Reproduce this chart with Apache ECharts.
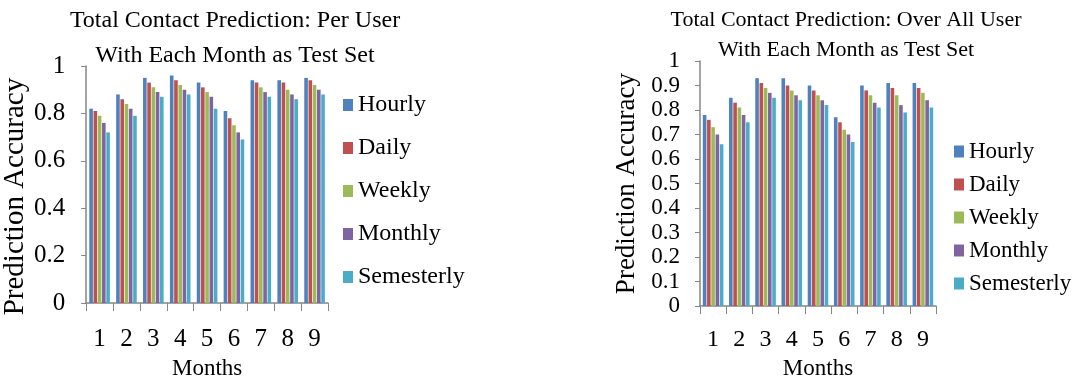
<!DOCTYPE html>
<html>
<head>
<meta charset="utf-8">
<script src="https://cdn.jsdelivr.net/npm/echarts@6/dist/echarts.min.js"></script>
<style>
  html, body { margin: 0; padding: 0; background: #fff; }
  #chart { width: 1072px; height: 385px; }
</style>
</head>
<body>
<div id="chart"></div>
<script>
// Test months and the training granularities compared in each month
const months = ['1', '2', '3', '4', '5', '6', '7', '8', '9'];
const granularities = ['Hourly', 'Daily', 'Weekly', 'Monthly', 'Semesterly'];
const palette = ['#4F81BD', '#C0504D', '#9BBB59', '#8064A2', '#4BACC6'];

// Accuracy averaged per user
const perUserHourly     = [0.82, 0.88, 0.95, 0.96, 0.93, 0.81, 0.94, 0.94, 0.95];
const perUserDaily      = [0.81, 0.86, 0.93, 0.94, 0.91, 0.78, 0.93, 0.93, 0.94];
const perUserWeekly     = [0.79, 0.84, 0.91, 0.92, 0.89, 0.75, 0.91, 0.90, 0.92];
const perUserMonthly    = [0.76, 0.82, 0.89, 0.90, 0.87, 0.72, 0.89, 0.88, 0.90];
const perUserSemesterly = [0.72, 0.79, 0.87, 0.88, 0.82, 0.69, 0.87, 0.86, 0.88];

// Accuracy pooled over all users
const overallHourly     = [0.78, 0.85, 0.93, 0.93, 0.90, 0.77, 0.90, 0.91, 0.91];
const overallDaily      = [0.76, 0.83, 0.91, 0.90, 0.88, 0.75, 0.88, 0.89, 0.89];
const overallWeekly     = [0.73, 0.81, 0.89, 0.88, 0.86, 0.72, 0.86, 0.86, 0.87];
const overallMonthly    = [0.70, 0.78, 0.87, 0.86, 0.84, 0.70, 0.83, 0.82, 0.84];
const overallSemesterly = [0.66, 0.75, 0.85, 0.84, 0.82, 0.67, 0.81, 0.79, 0.81];

const perUser = [perUserHourly, perUserDaily, perUserWeekly, perUserMonthly, perUserSemesterly];
const overall = [overallHourly, overallDaily, overallWeekly, overallMonthly, overallSemesterly];

const FONT = '"Liberation Serif", "DejaVu Serif", serif';
const AXIS_GREY = '#868686';

function xAxisFor(gridIndex, fontSize, labelMargin, nameGap) {
  return {
    type: 'category',
    gridIndex: gridIndex,
    data: months,
    boundaryGap: true,
    name: 'Months',
    nameLocation: 'middle',
    nameGap: nameGap,
    nameTextStyle: { fontFamily: FONT, fontSize: 23, color: '#000' },
    axisLine: { show: true, lineStyle: { color: AXIS_GREY, width: 1.5 } },
    axisTick: { show: true, length: 8, alignWithLabel: false, lineStyle: { color: AXIS_GREY } },
    axisLabel: { fontFamily: FONT, fontSize: fontSize, color: '#000', margin: labelMargin },
    splitLine: { show: false }
  };
}

function yAxisFor(gridIndex, interval, fontSize, labelMargin, nameSize, nameGap, namePad) {
  return {
    type: 'value',
    gridIndex: gridIndex,
    min: 0,
    max: 1,
    interval: interval,
    name: 'Prediction Accuracy',
    nameLocation: 'middle',
    nameRotate: 90,
    nameGap: nameGap,
    nameTextStyle: { fontFamily: FONT, fontSize: nameSize, color: '#000', padding: namePad },
    axisLine: { show: true, lineStyle: { color: AXIS_GREY, width: 1.5 } },
    axisTick: { show: true, length: 5, lineStyle: { color: AXIS_GREY } },
    axisLabel: { fontFamily: FONT, fontSize: fontSize, color: '#000', margin: labelMargin },
    splitLine: { show: false }
  };
}

function barSeries(values, i, axisIndex) {
  return {
    type: 'bar',
    name: granularities[i],
    xAxisIndex: axisIndex,
    yAxisIndex: axisIndex,
    data: values,
    barWidth: 3.6,
    barGap: '18%',
    itemStyle: { color: palette[i] },
    emphasis: { disabled: true },
    animation: false
  };
}

const series = [];
perUser.forEach((vals, i) => series.push(barSeries(vals, i, 0)));
overall.forEach((vals, i) => series.push(barSeries(vals, i, 1)));

const chart = echarts.init(document.getElementById('chart'), null, { renderer: 'canvas' });
chart.setOption({
  backgroundColor: '#fff',
  animation: false,
  color: palette,
  title: [
    {
      text: 'Total Contact Prediction: Per User\nWith Each Month as Test Set',
      left: 230, top: -2, textAlign: 'center',
      textStyle: { fontFamily: FONT, fontSize: 24, fontWeight: 'normal', color: '#000', lineHeight: 35 }
    },
    {
      text: 'Total Contact Prediction: Over All User\nWith Each Month as Test Set',
      left: 841, top: 0, textAlign: 'center',
      textStyle: { fontFamily: FONT, fontSize: 22, fontWeight: 'normal', color: '#000', lineHeight: 30 }
    }
  ],
  legend: [
    {
      data: granularities,
      orient: 'vertical',
      left: 338, top: 88,
      itemWidth: 10, itemHeight: 12, itemGap: 19,
      icon: 'rect',
      textStyle: { fontFamily: FONT, fontSize: 24, color: '#000', lineHeight: 24 },
      selectedMode: false
    },
    {
      data: granularities,
      orient: 'vertical',
      left: 949, top: 135,
      itemWidth: 10, itemHeight: 12, itemGap: 10,
      icon: 'rect',
      textStyle: { fontFamily: FONT, fontSize: 23, color: '#000', lineHeight: 23 },
      selectedMode: false
    }
  ],
  grid: [
    { left: 86, top: 66, width: 242, height: 242, containLabel: false },
    { left: 700, top: 61, width: 236, height: 252, containLabel: false }
  ],
  xAxis: [
    xAxisFor(0, 25, 24, 50),
    xAxisFor(1, 24, 22, 44)
  ],
  yAxis: [
    yAxisFor(0, 0.2, 25, 21, 29, 41, [0, 24, 0, 0]),
    yAxisFor(1, 0.1, 23, 20, 27, 60, 0)
  ],
  series: series
});
</script>
</body>
</html>
